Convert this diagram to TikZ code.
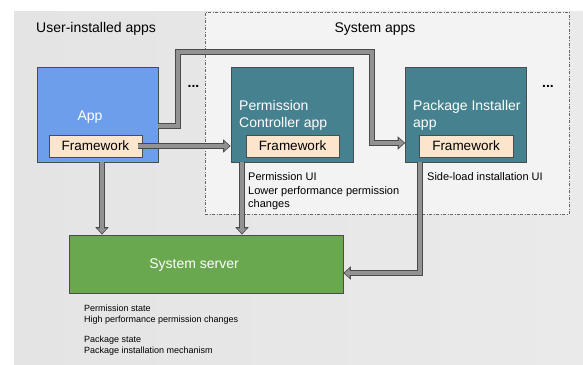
\documentclass[tikz,border=0pt]{standalone}
\usepackage{fontspec}
\setmainfont{Liberation Sans}
\usetikzlibrary{arrows.meta}
\newcommand\myfs[2]{\fontsize{#1}{#2}\selectfont}
\definecolor{bggray}{HTML}{E4E4E4}
\definecolor{bggrayr}{HTML}{EAEAEA}
\definecolor{sysfill}{HTML}{F3F3F3}
\definecolor{appblue}{HTML}{6D9EEB}
\definecolor{appteal}{HTML}{45818E}
\definecolor{srvgreen}{HTML}{6AA84F}
\definecolor{fwpeach}{HTML}{FCE5CD}
\definecolor{arrin}{HTML}{929292}
\definecolor{arrout}{HTML}{4A4A4A}
\begin{document}
\begin{tikzpicture}[x=1pt,y=-1pt,
  appbox/.style={draw=black!70, line width=0.7pt, inner sep=0pt, rectangle},
  fwbox/.style={draw=black!70, line width=0.7pt, fill=fwpeach, inner sep=0pt, minimum height=22pt, font=\myfs{13.5}{16}},
  lbl/.style={inner sep=0pt, font=\myfs{14}{17}},
  wlbl/.style={inner sep=0pt, font=\myfs{14}{17}, text=white, align=left},
  note/.style={inner sep=0pt, align=left, font=\myfs{11}{13.5}, anchor=north west},
  garrow/.style={line width=3.8pt, draw=arrin, line join=miter, shorten >=1.3pt,
    -{Triangle[length=5pt,width=9pt,fill=arrin]},
    preaction={draw=arrout, line width=6pt, shorten >=0pt, -{Triangle[length=7.5pt,width=13pt]}}}]
\useasboundingbox (0,0) rectangle (583,364);
\shade[left color=bggray, right color=bggrayr] (14,11) rectangle (583,364);
\node[draw=black!60, fill=sysfill, line width=0.6pt, dash pattern=on 3pt off 1.5pt on 1pt off 1.5pt,
  minimum width=364pt, minimum height=202pt, inner sep=0pt] (sys) at (387,113) {};
\node[lbl, anchor=west] (ulab) at (36,29) {User-installed apps};
\node[lbl] (slab) at (375,29) {System apps};
% boxes
\node[appbox, fill=appblue, minimum width=121pt, minimum height=95pt] (app) at (97.5,114.5) {};
\node[wlbl] (applab) at (90,117) {App};
\node[fwbox, minimum width=93pt] (appfw) at (95.5,146) {Framework};
\node[appbox, fill=appteal, minimum width=122pt, minimum height=95pt] (pc) at (292,114.5) {};
\node[wlbl, anchor=west] (pclab) at (239,115.5) {Permission\\Controller app};
\node[fwbox, minimum width=93pt] (pcfw) at (292.5,146) {Framework};
\node[appbox, fill=appteal, minimum width=121pt, minimum height=95pt] (pi) at (466,114.5) {};
\node[wlbl, anchor=west] (pilab) at (413,115.5) {Package Installer\\app};
\node[fwbox, minimum width=94pt] (pifw) at (466,146) {Framework};
\node[appbox, fill=srvgreen, minimum width=274pt, minimum height=58pt] (srv) at (206,264) {};
\node[lbl, text=white] (srvlab) at (194,265) {System server};
% dots
\node[inner sep=0pt, font=\myfs{14}{17}\bfseries] (dots1) at (193.5,86) {...};
\node[inner sep=0pt, font=\myfs{14}{17}\bfseries] (dots2) at (548,86) {...};
% notes
\node[note] (pcnote) at (248,172.5) {Permission UI\\Lower performance permission\\changes};
\node[note] (pinote) at (427,172.5) {Side-load installation UI};
\node[note, font=\myfs{9}{11}] (srvnote) at (84,304.5) {Permission state\\High performance permission changes\\[9pt]Package state\\Package installation mechanism};
% helper coordinates
\coordinate (h1) at (0,126);
\coordinate (b1) at (178,126);
\coordinate (b2) at (178,52);
\coordinate (b3) at (372,52);
\coordinate (b4) at (372,143);
\coordinate (x102) at (102,0);
\coordinate (x242) at (242,0);
\coordinate (b5) at (420,273);
% arrows
\draw[garrow] (app.east |- h1) -- (b1) -- (b2) -- (b3) -- (b4) -- (pi.west |- b4);
\draw[garrow] ([xshift=-4pt]appfw.east) -- (pc.west |- appfw.east);
\draw[garrow] (app.south -| x102) -- (srv.north -| x102);
\draw[garrow] (pc.south -| x242) -- (srv.north -| x242);
\draw[garrow] (pi.south -| b5) -- (b5) -- (srv.east |- b5);
\end{tikzpicture}
\end{document}
